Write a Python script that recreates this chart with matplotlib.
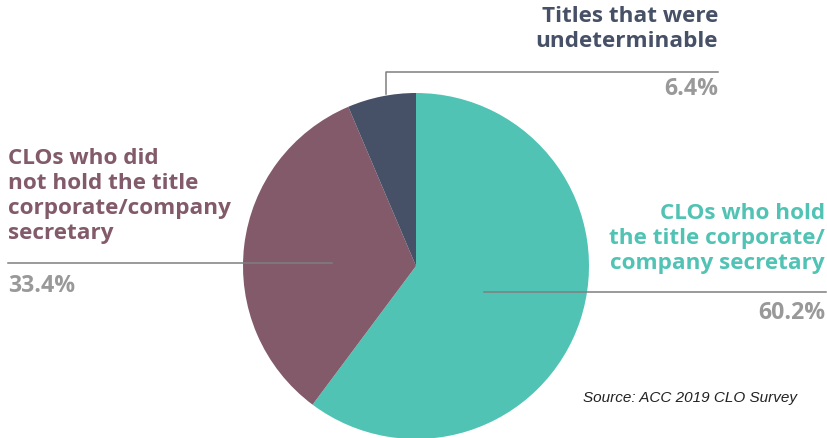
import matplotlib.pyplot as plt

# data
labels = ["CLOs who hold\nthe title corporate/\ncompany secretary",
          "CLOs who did\nnot hold the title\ncorporate/company\nsecretary",
          "Titles that were\nundeterminable"]
shares = [60.2, 33.4, 6.4]
colors = ["#50c3b5", "#825a6a", "#465066"]
pct_txt = ["%.1f%%" % v for v in shares]

W, H = 828, 438
fig = plt.figure(figsize=(W / 100, H / 100), dpi=100)
ax = fig.add_axes([0, 0, 1, 1])
ax.set_xlim(0, W)
ax.set_ylim(0, H)
ax.set_aspect("equal")
ax.axis("off")

def Y(y):
    # pixel row from top -> data y
    return H - y

ax.pie(shares, colors=colors, startangle=90, counterclock=False,
       center=(416, Y(266)), radius=173, frame=True,
       wedgeprops=dict(linewidth=0))
ax.set_xlim(0, W)
ax.set_ylim(0, H)
ax.axis("off")

font = "Open Sans"
fs = 16.2
gray = "#999999"
line_c = "#7f7f7f"
ls = 1.24

# teal (right)
ax.text(825, Y(203), labels[0], color=colors[0], ha="right", va="top",
        fontsize=fs, fontweight="bold", family=font, linespacing=ls)
ax.plot([484, 826], [Y(292), Y(292)], color=line_c, lw=1.1)
ax.text(825, Y(313), pct_txt[0], color=gray, ha="right", va="center",
        fontsize=fs + 0.5, fontweight="bold", family=font)

# purple (left)
ax.text(8, Y(148), labels[1], color=colors[1], ha="left", va="top",
        fontsize=fs, fontweight="bold", family=font, linespacing=ls)
ax.plot([8, 332], [Y(263), Y(263)], color=line_c, lw=1.1)
ax.text(8, Y(286), pct_txt[1], color=gray, ha="left", va="center",
        fontsize=fs + 0.5, fontweight="bold", family=font)

# navy (top)
ax.text(718, Y(6), labels[2], color=colors[2], ha="right", va="top",
        fontsize=fs, fontweight="bold", family=font, linespacing=ls)
ax.plot([386, 386, 718], [Y(94), Y(72), Y(72)], color=line_c, lw=1.1)
ax.text(718, Y(89), pct_txt[2], color=gray, ha="right", va="center",
        fontsize=fs + 0.5, fontweight="bold", family=font)

ax.text(583, Y(398), "Source: ACC 2019 CLO Survey", color="#222222",
        ha="left", va="center", fontsize=11, style="italic",
        family="Liberation Sans")

fig.savefig("out.png", dpi=100)
